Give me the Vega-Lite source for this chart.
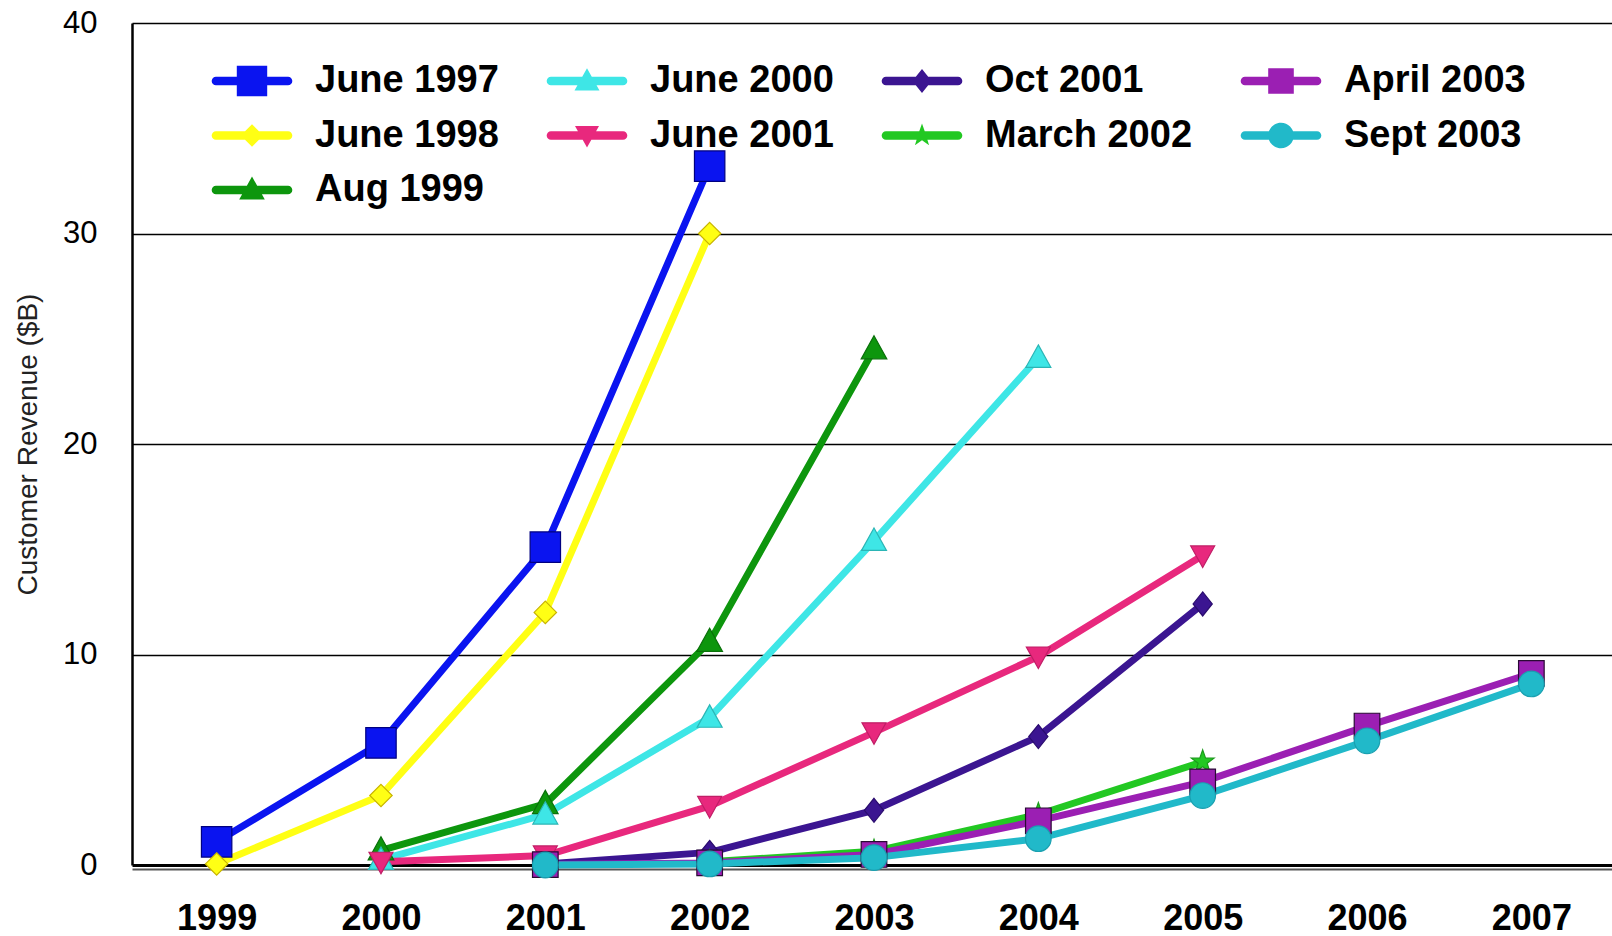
{
  "$schema": "https://vega.github.io/schema/vega-lite/v6.json",
  "width": 1484,
  "height": 842,
  "autosize": {"type": "none"},
  "padding": {"left": 132, "top": 23, "right": 0, "bottom": 71},
  "background": "white",
  "config": {"view": {"stroke": null}, "font": "Liberation Sans"},
  "data": {
    "values": [
      {"series": "June 1997", "year": 1999, "revenue": 1.1},
      {"series": "June 1997", "year": 2000, "revenue": 5.8},
      {"series": "June 1997", "year": 2001, "revenue": 15.1},
      {"series": "June 1997", "year": 2002, "revenue": 33.2},
      {"series": "June 1998", "year": 1999, "revenue": 0.05},
      {"series": "June 1998", "year": 2000, "revenue": 3.3},
      {"series": "June 1998", "year": 2001, "revenue": 12.0},
      {"series": "June 1998", "year": 2002, "revenue": 30.0},
      {"series": "Aug 1999", "year": 2000, "revenue": 0.7},
      {"series": "Aug 1999", "year": 2001, "revenue": 2.9},
      {"series": "Aug 1999", "year": 2002, "revenue": 10.6},
      {"series": "Aug 1999", "year": 2003, "revenue": 24.5},
      {"series": "June 2000", "year": 2000, "revenue": 0.25},
      {"series": "June 2000", "year": 2001, "revenue": 2.4},
      {"series": "June 2000", "year": 2002, "revenue": 7.0},
      {"series": "June 2000", "year": 2003, "revenue": 15.4},
      {"series": "June 2000", "year": 2004, "revenue": 24.1},
      {"series": "June 2001", "year": 2000, "revenue": 0.15},
      {"series": "June 2001", "year": 2001, "revenue": 0.45},
      {"series": "June 2001", "year": 2002, "revenue": 2.8},
      {"series": "June 2001", "year": 2003, "revenue": 6.3},
      {"series": "June 2001", "year": 2004, "revenue": 9.9},
      {"series": "June 2001", "year": 2005, "revenue": 14.7},
      {"series": "Oct 2001", "year": 2001, "revenue": 0.05},
      {"series": "Oct 2001", "year": 2002, "revenue": 0.6},
      {"series": "Oct 2001", "year": 2003, "revenue": 2.6},
      {"series": "Oct 2001", "year": 2004, "revenue": 6.1},
      {"series": "Oct 2001", "year": 2005, "revenue": 12.4},
      {"series": "March 2002", "year": 2002, "revenue": 0.15},
      {"series": "March 2002", "year": 2003, "revenue": 0.65},
      {"series": "March 2002", "year": 2004, "revenue": 2.4},
      {"series": "March 2002", "year": 2005, "revenue": 4.9},
      {"series": "April 2003", "year": 2001, "revenue": 0.02},
      {"series": "April 2003", "year": 2002, "revenue": 0.1},
      {"series": "April 2003", "year": 2003, "revenue": 0.5},
      {"series": "April 2003", "year": 2004, "revenue": 2.1},
      {"series": "April 2003", "year": 2005, "revenue": 3.95},
      {"series": "April 2003", "year": 2006, "revenue": 6.6},
      {"series": "April 2003", "year": 2007, "revenue": 9.1},
      {"series": "Sept 2003", "year": 2001, "revenue": 0.0},
      {"series": "Sept 2003", "year": 2002, "revenue": 0.05},
      {"series": "Sept 2003", "year": 2003, "revenue": 0.35},
      {"series": "Sept 2003", "year": 2004, "revenue": 1.25},
      {"series": "Sept 2003", "year": 2005, "revenue": 3.3},
      {"series": "Sept 2003", "year": 2006, "revenue": 5.9},
      {"series": "Sept 2003", "year": 2007, "revenue": 8.6}
    ]
  },
  "encoding": {
    "x": {
      "field": "year",
      "type": "ordinal",
      "scale": {"type": "point", "padding": 0.515, "domain": [1999, 2000, 2001, 2002, 2003, 2004, 2005, 2006, 2007]},
      "axis": {
        "title": null,
        "labelAngle": 0,
        "labelFont": "Liberation Sans",
        "labelFontSize": 36,
        "labelFontWeight": "bold",
        "labelColor": "#000000",
        "ticks": false,
        "tickSize": 0,
        "labelPadding": 32,
        "domain": true,
        "domainColor": "#555555",
        "domainWidth": 2,
        "offset": 4,
        "grid": false
      }
    },
    "y": {
      "field": "revenue",
      "type": "quantitative",
      "scale": {"domain": [0, 40], "nice": false},
      "axis": {
        "title": "Customer Revenue ($B)",
        "titleFont": "Liberation Sans",
        "titleFontSize": 28,
        "titleFontWeight": "normal",
        "titleColor": "#222222",
        "titlePadding": 20,
        "values": [0, 10, 20, 30, 40],
        "labelFont": "Liberation Sans",
        "labelFontSize": 31,
        "labelColor": "#000000",
        "labelFlush": false,
        "labelOverlap": false,
        "ticks": false,
        "tickSize": 0,
        "labelPadding": 35,
        "domain": true,
        "domainColor": "#000000",
        "domainWidth": 2.5,
        "grid": true,
        "gridColor": "#000000",
        "gridOpacity": 1,
        "gridWidth": {"condition": {"test": "datum.value === 0", "value": 3}, "value": 1.6}
      }
    }
  },
  "layer": [
    {
      "mark": {"type": "line", "strokeWidth": 7, "strokeJoin": "round", "strokeCap": "round"},
      "encoding": {
        "color": {
          "field": "series",
          "type": "nominal",
          "legend": null,
          "scale": {
            "domain": ["June 1997", "June 2000", "Oct 2001", "April 2003", "June 1998", "June 2001", "March 2002", "Sept 2003", "Aug 1999"],
            "range": ["#0a14f0", "#3ee6e6", "#3b1591", "#9b1fb3", "#ffff14", "#e8287d", "#22c822", "#21b9c9", "#0d960d"]
          }
        }
      }
    },
    {
      "mark": {"type": "point", "filled": true, "size": 1024, "strokeWidth": 1.2, "opacity": 1},
      "encoding": {
        "fill": {
          "field": "series",
          "type": "nominal",
          "legend": null,
          "scale": {
            "domain": ["June 1997", "June 2000", "Oct 2001", "April 2003", "June 1998", "June 2001", "March 2002", "Sept 2003", "Aug 1999"],
            "range": ["#0a14f0", "#3ee6e6", "#3b1591", "#9b1fb3", "#ffff14", "#e8287d", "#22c822", "#21b9c9", "#0d960d"]
          }
        },
        "stroke": {
          "field": "series",
          "type": "nominal",
          "legend": null,
          "scale": {
            "domain": ["June 1997", "June 2000", "Oct 2001", "April 2003", "June 1998", "June 2001", "March 2002", "Sept 2003", "Aug 1999"],
            "range": ["#000080", "#2bb5b5", "#2a0c6e", "#2a0a35", "#c8b400", "#c01e66", "#1a9a1a", "#1aa0b0", "#0a700a"]
          }
        },
        "shape": {
          "field": "series",
          "type": "nominal",
          "legend": null,
          "scale": {
            "domain": ["June 1997", "June 2000", "Oct 2001", "April 2003", "June 1998", "June 2001", "March 2002", "Sept 2003", "Aug 1999"],
            "range": [
              "M-0.95,-0.95H0.95V0.95H-0.95Z",
              "M0,-0.8L0.78,0.6L-0.78,0.6Z",
              "M0,-0.75L0.6,0L0,0.75L-0.6,0Z",
              "M-0.8,-0.8H0.8V0.8H-0.8Z",
              "M0,-0.7L0.7,0L0,0.7L-0.7,0Z",
              "M-0.75,-0.6L0.75,-0.6L0,0.75Z",
              "M0,-0.75L0.176,-0.243L0.713,-0.232L0.285,0.093L0.441,0.607L0,0.3L-0.441,0.607L-0.285,0.093L-0.713,-0.232L-0.176,-0.243Z",
              "M-0.8,0A0.8,0.8 0 1 1 0.8,0A0.8,0.8 0 1 1 -0.8,0Z",
              "M0,-0.85L0.8,0.6L-0.8,0.6Z"
            ]
          }
        }
      }
    },
    {
      "mark": {"type": "point", "filled": true, "size": 1024, "opacity": 0},
      "encoding": {
        "color": {
          "field": "series",
          "type": "nominal",
          "scale": {
            "domain": ["June 1997", "June 2000", "Oct 2001", "April 2003", "June 1998", "June 2001", "March 2002", "Sept 2003", "Aug 1999"],
            "range": ["#0a14f0", "#3ee6e6", "#3b1591", "#9b1fb3", "#ffff14", "#e8287d", "#22c822", "#21b9c9", "#0d960d"]
          },
          "legend": {
            "title": null,
            "orient": "none",
            "direction": "horizontal",
            "legendX": 101,
            "legendY": 39,
            "padding": 0,
            "columns": 4,
            "columnPadding": 47,
            "rowPadding": 16.5,
            "symbolSize": 1024,
            "symbolStrokeWidth": 0,
            "symbolOpacity": 1,
            "labelOffset": 44,
            "labelFont": "Liberation Sans",
            "labelFontSize": 38,
            "labelFontWeight": "bold",
            "labelColor": "#000000",
            "labelLimit": 400
          }
        },
        "shape": {
          "field": "series",
          "type": "nominal",
          "scale": {
            "domain": ["June 1997", "June 2000", "Oct 2001", "April 2003", "June 1998", "June 2001", "March 2002", "Sept 2003", "Aug 1999"],
            "range": [
              "M-2.25,-0.27H2.25A0.27,0.27 0 0 1 2.25,0.27H-2.25A0.27,0.27 0 0 1 -2.25,-0.27Z M-0.95,-0.95H0.95V0.95H-0.95Z",
              "M-2.25,-0.27H2.25A0.27,0.27 0 0 1 2.25,0.27H-2.25A0.27,0.27 0 0 1 -2.25,-0.27Z M0,-0.8L0.78,0.6L-0.78,0.6Z",
              "M-2.25,-0.27H2.25A0.27,0.27 0 0 1 2.25,0.27H-2.25A0.27,0.27 0 0 1 -2.25,-0.27Z M0,-0.75L0.6,0L0,0.75L-0.6,0Z",
              "M-2.25,-0.27H2.25A0.27,0.27 0 0 1 2.25,0.27H-2.25A0.27,0.27 0 0 1 -2.25,-0.27Z M-0.8,-0.8H0.8V0.8H-0.8Z",
              "M-2.25,-0.27H2.25A0.27,0.27 0 0 1 2.25,0.27H-2.25A0.27,0.27 0 0 1 -2.25,-0.27Z M0,-0.7L0.7,0L0,0.7L-0.7,0Z",
              "M-2.25,-0.27H2.25A0.27,0.27 0 0 1 2.25,0.27H-2.25A0.27,0.27 0 0 1 -2.25,-0.27Z M-0.75,-0.6L0.75,-0.6L0,0.75Z",
              "M-2.25,-0.27H2.25A0.27,0.27 0 0 1 2.25,0.27H-2.25A0.27,0.27 0 0 1 -2.25,-0.27Z M0,-0.75L0.176,-0.243L0.713,-0.232L0.285,0.093L0.441,0.607L0,0.3L-0.441,0.607L-0.285,0.093L-0.713,-0.232L-0.176,-0.243Z",
              "M-2.25,-0.27H2.25A0.27,0.27 0 0 1 2.25,0.27H-2.25A0.27,0.27 0 0 1 -2.25,-0.27Z M-0.8,0A0.8,0.8 0 1 1 0.8,0A0.8,0.8 0 1 1 -0.8,0Z",
              "M-2.25,-0.27H2.25A0.27,0.27 0 0 1 2.25,0.27H-2.25A0.27,0.27 0 0 1 -2.25,-0.27Z M0,-0.85L0.8,0.6L-0.8,0.6Z"
            ]
          },
          "legend": {
            "title": null,
            "orient": "none",
            "direction": "horizontal",
            "legendX": 101,
            "legendY": 39,
            "padding": 0,
            "columns": 4,
            "columnPadding": 47,
            "rowPadding": 16.5,
            "symbolSize": 1024,
            "symbolStrokeWidth": 0,
            "symbolOpacity": 1,
            "labelOffset": 44,
            "labelFont": "Liberation Sans",
            "labelFontSize": 38,
            "labelFontWeight": "bold",
            "labelColor": "#000000",
            "labelLimit": 400
          }
        }
      }
    }
  ],
  "resolve": {"scale": {"color": "independent", "shape": "independent"}}
}
